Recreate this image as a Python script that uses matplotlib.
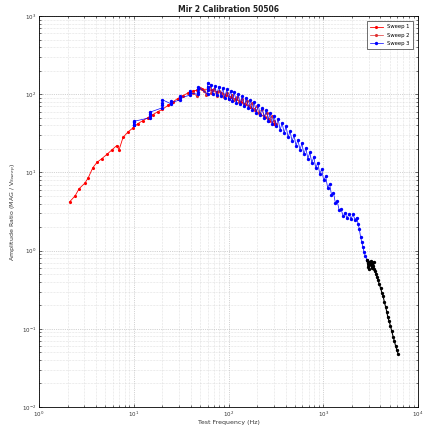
import numpy as np
import matplotlib
matplotlib.use("Agg")
import matplotlib.pyplot as plt
from matplotlib.ticker import LogLocator, NullFormatter

# Sweep 1 (red line)
sweep1_freq = [2.1, 2.4, 2.65, 3.05, 3.3, 3.7, 4.1, 4.6, 5.2, 5.9, 6.6, 7.0, 7.7, 8.7, 9.8,
               11, 12.5, 14, 16, 18, 20, 23, 26, 29, 33, 37, 42, 47, 53, 60, 67, 75, 84,
               95, 106, 120, 135, 150, 170, 190, 215, 240, 270, 300]
sweep1_amp = [4.2, 5.0, 6.2, 7.3, 8.5, 11.5, 13.5, 15, 17, 19.5, 22, 19.5, 28, 33, 37,
              42, 46, 50, 55, 60, 64, 72, 80, 88, 96, 103, 110, 113, 115, 116, 112, 108, 104,
              98, 92, 86, 80, 74, 68, 62, 56, 51, 46, 42]

# Sweep 2 (red points around the peak)
sweep2_freq = [42, 46, 50, 55, 58, 62, 66, 70, 75, 80, 85, 90, 96, 102, 108, 115, 122, 130,
               138, 146, 155, 165, 175, 186, 198, 210, 224, 238, 253, 268, 285, 300, 320]
sweep2_amp = [105, 95, 120, 110, 98, 125, 104, 115, 96, 110, 100, 92, 105, 88, 98, 84, 92, 80,
              88, 75, 82, 70, 77, 64, 70, 58, 64, 53, 58, 48, 52, 45, 42]

# Sweep 3 (blue)
sweep3_freq = [10, 10, 10, 10, 14.8, 14.8, 14.8, 14.8, 20, 20, 20, 20, 25, 25, 25,
               31, 31, 31, 39, 39, 39, 48, 48, 48, 48, 60, 60, 60, 60,
               65, 68, 72, 75, 79, 83, 87, 91, 96, 100, 105, 110, 115, 121, 127, 133,
               140, 147, 154, 162, 170, 178, 187, 196, 206, 216, 227, 238, 250, 262,
               275, 289, 303, 318, 334, 350, 368, 386, 405, 425, 446, 468, 491, 515,
               540, 567, 595, 624, 655, 687, 721, 757, 794, 833, 874, 917, 962, 1010,
               1060, 1110, 1165, 1220, 1280, 1340, 1400, 1470, 1540, 1620, 1700, 1780,
               1870, 1960, 2060, 2160, 2260, 2330, 2400, 2470, 2540, 2620, 2700, 2780, 2890]
sweep3_amp = [40, 44, 41, 45, 50, 56, 53, 59, 67, 78, 72, 85, 75, 82, 78,
              85, 95, 90, 97, 110, 103, 100, 118, 108, 125, 100, 125, 112, 140,
              132, 100, 128, 98, 125, 94, 120, 90, 116, 86, 110, 82, 106, 78, 100, 74,
              94, 70, 90, 66, 84, 62, 79, 58, 73, 54, 67, 50, 62, 46,
              57, 42, 53, 39, 48, 35, 43, 32, 39, 28, 34, 25, 30, 22,
              26, 19.5, 23.5, 17, 20.5, 15, 18, 13.2, 15.8, 11.3, 13.3, 9.6, 11, 7.9,
              8.9, 6.4, 7.1, 5.2, 5.5, 4.1, 4.3, 3.3, 3.4, 2.75, 3.05, 2.6,
              2.95, 2.55, 2.9, 2.5, 2.65, 2.2, 1.9, 1.5, 1.3, 1.1, 0.95, 0.85, 0.76]

# High-frequency segment (black)
hf_freq = [2890, 2950, 3000, 3050, 3100, 3150, 3200, 3250, 3300, 3350, 3400, 3450, 3520,
           3600, 3690, 3780, 3900, 4030, 4150, 4280, 4410, 4550, 4680, 4800, 4950, 5100,
           5280, 5460, 5620, 5800, 5970, 6150]
hf_amp = [0.76, 0.62, 0.72, 0.58, 0.70, 0.66, 0.74, 0.60, 0.69, 0.64, 0.72, 0.58, 0.55,
          0.50, 0.46, 0.42, 0.37, 0.33, 0.29, 0.26, 0.22, 0.19, 0.165, 0.14, 0.125, 0.11,
          0.093, 0.079, 0.07, 0.06, 0.054, 0.048]

fig = plt.figure(figsize=(4.24, 4.33), dpi=100)
ax = fig.add_axes([0.092, 0.060, 0.894, 0.903])

ax.loglog(sweep1_freq, sweep1_amp, '.-', color='red', lw=0.6, ms=2.5, label='Sweep 1')
ax.loglog(sweep2_freq, sweep2_amp, '.-', color='#e03030', lw=0.5, ms=2.5, label='Sweep 2')
ax.loglog(sweep3_freq, sweep3_amp, '.-', color='blue', lw=0.5, ms=2.8, label='Sweep 3')
ax.loglog(hf_freq, hf_amp, '.-', color='black', lw=0.8, ms=2.8)

ax.set_xlim(1, 1e4)
ax.set_ylim(1e-2, 1e3)

ax.xaxis.set_major_locator(LogLocator(base=10, numticks=10))
ax.yaxis.set_major_locator(LogLocator(base=10, numticks=10))
ax.xaxis.set_minor_locator(LogLocator(base=10, subs=np.arange(2, 10), numticks=20))
ax.yaxis.set_minor_locator(LogLocator(base=10, subs=np.arange(2, 10), numticks=20))
ax.xaxis.set_minor_formatter(NullFormatter())
ax.yaxis.set_minor_formatter(NullFormatter())

ax.grid(True, which='major', ls=':', lw=0.5, color='#aaaaaa')
ax.grid(True, which='minor', ls=':', lw=0.4, color='#c8c8c8')
ax.tick_params(which='both', direction='in', top=True, right=True, labelsize=4,
               length=2, width=0.4, pad=2, labelcolor='#333333')
ax.tick_params(which='minor', length=1.2)
for s in ax.spines.values():
    s.set_linewidth(0.6)

ax.set_title('Mir 2 Calibration 50506', fontsize=5.5, fontweight='bold', pad=3, color='#222222')
ax.set_xlabel('Test Frequency (Hz)', fontsize=4.5, labelpad=1, color='#333333')
ax.set_ylabel('Amplitude Ratio (MAG / V$_{Sweep}$)', fontsize=4.5, labelpad=2, color='#333333')

leg = ax.legend(loc='upper right', fontsize=3.8, frameon=True, fancybox=False,
                edgecolor='black', borderpad=0.6, handlelength=2.5, labelspacing=0.6,
                borderaxespad=1.0)
leg.get_frame().set_linewidth(0.5)

fig.savefig('out.png', dpi=100)
